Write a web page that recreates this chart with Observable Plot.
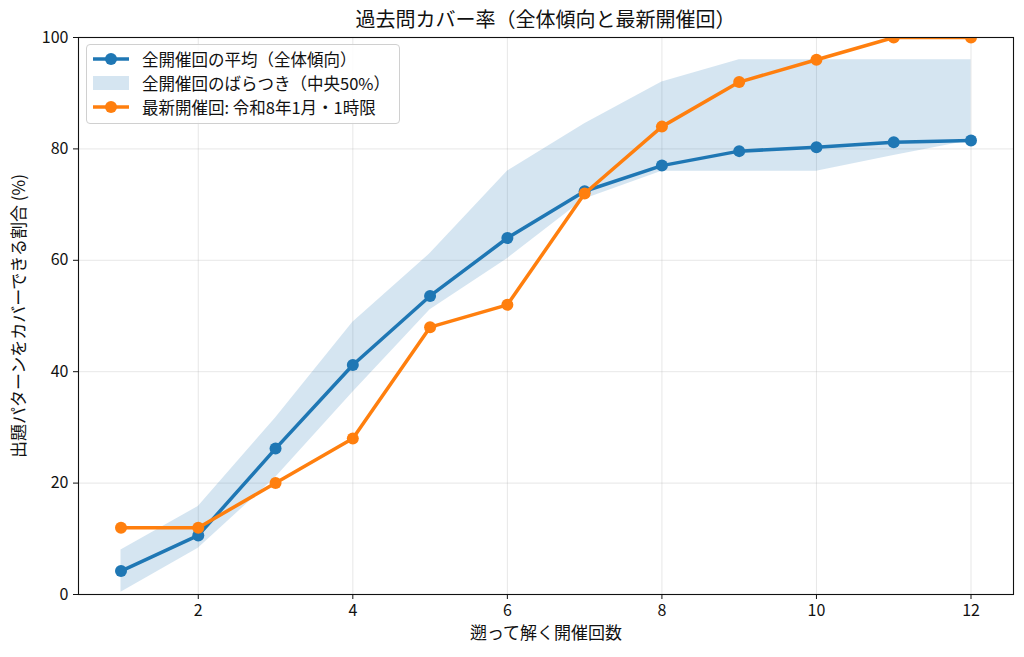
<!DOCTYPE html>
<html>
<head>
<meta charset="utf-8">
<script src="https://cdn.jsdelivr.net/npm/d3@7"></script>
<script src="https://cdn.jsdelivr.net/npm/@observablehq/plot@0.6"></script>
<style>
  body { margin: 0; background: #fff; font-family: "Noto Sans CJK JP", "Noto Sans", sans-serif; }
  #wrap { position: relative; width: 1024px; height: 657px; }
  #title { position: absolute; left: 78px; width: 935px; top: 0; height: 36px; line-height: 38px; text-align: center; font-size: 20px; color: #111; z-index: 2; }
  #chart { position: absolute; left: 0; top: 16px; }
  #legend { position: absolute; left: 86px; top: 44px; width: 314px; height: 80px; border: 1px solid #d0d0d0; border-radius: 4px; background: rgba(255,255,255,0.85); font-size: 16.5px; color: #111; box-sizing: border-box; }
  .row { position: absolute; left: 6px; height: 24px; display: flex; align-items: center; }
  .row span { margin-left: 13px; white-space: nowrap; }
</style>
</head>
<body>
<div id="wrap">
  <div id="title"></div>
  <div id="chart"></div>
  <div id="legend"></div>
</div>
<script>
const rounds = [1, 2, 3, 4, 5, 6, 7, 8, 9, 10, 11, 12];
const meanAll = [4.2, 10.6, 26.2, 41.2, 53.6, 64.0, 72.4, 77.0, 79.6, 80.3, 81.2, 81.5];
const q25 = [0.4, 8.3, 21.0, 36.3, 51.1, 60.3, 71.0, 76.0, 76.0, 76.0, 78.8, 81.5];
const q75 = [8.0, 15.8, 31.7, 48.9, 61.2, 76.0, 84.5, 92.0, 96.0, 96.0, 96.0, 96.0];
const latest = [12, 12, 20, 28, 48, 52, 72, 84, 92, 96, 100, 100];
const xTicks = [2, 4, 6, 8, 10, 12];
const yTicks = [0, 20, 40, 60, 80, 100];

const titleText = "過去問カバー率（全体傾向と最新開催回）";
const xLabel = "遡って解く開催回数";
const yLabel = "出題パターンをカバーできる割合 (%)";
const legendLabels = ["全開催回の平均（全体傾向）", "全開催回のばらつき（中央50%）", "最新開催回: 令和8年1月・1時限"];

const blue = "#1f77b4", orange = "#ff7f0e";

const rows = rounds.map((r, i) => ({x: r, mean: meanAll[i], lo: q25[i], hi: q75[i], latest: latest[i]}));

document.getElementById("title").textContent = titleText;

const plot = Plot.plot({
  width: 1024,
  height: 641,
  marginLeft: 78,
  marginRight: 11,
  marginTop: 21,
  marginBottom: 63,
  style: {fontFamily: '"Noto Sans CJK JP", "Noto Sans", sans-serif', fontSize: "16px", color: "#111", background: "transparent"},
  x: {domain: [0.45, 12.55]},
  y: {domain: [0, 100]},
  marks: [
    Plot.gridX(xTicks, {stroke: "#b0b0b0", strokeOpacity: 0.3}),
    Plot.gridY(yTicks, {stroke: "#b0b0b0", strokeOpacity: 0.3}),
    Plot.areaY(rows, {x: "x", y1: "lo", y2: "hi", fill: blue, fillOpacity: 0.19}),
    Plot.line(rows, {x: "x", y: "mean", stroke: blue, strokeWidth: 3.5, clip: true}),
    Plot.dot(rows, {x: "x", y: "mean", r: 6, fill: blue, clip: true}),
    Plot.line(rows, {x: "x", y: "latest", stroke: orange, strokeWidth: 3.5, clip: true}),
    Plot.dot(rows, {x: "x", y: "latest", r: 6, fill: orange, clip: true}),
    Plot.frame({stroke: "#111", strokeWidth: 1.1}),
    Plot.axisX(xTicks, {tickSize: 5, tickPadding: 5, fontSize: 16, label: xLabel, labelAnchor: "center", labelArrow: "none", labelOffset: 44}),
    Plot.axisY(yTicks, {tickSize: 5, tickPadding: 5, fontSize: 16, label: yLabel, labelAnchor: "center", labelArrow: "none", labelOffset: 66})
  ]
});
plot.querySelectorAll("[aria-label='x-axis label'] text, [aria-label='y-axis label'] text").forEach(t => t.style.fontSize = "17px");
document.getElementById("chart").appendChild(plot);

// legend
const lg = document.getElementById("legend");
const swatches = [
  `<svg width="36" height="14"><line x1="0" y1="7" x2="36" y2="7" stroke="${blue}" stroke-width="3.5"/><circle cx="18" cy="7" r="6" fill="${blue}"/></svg>`,
  `<svg width="36" height="14"><rect x="0" y="0" width="36" height="14" fill="${blue}" fill-opacity="0.19"/></svg>`,
  `<svg width="36" height="14"><line x1="0" y1="7" x2="36" y2="7" stroke="${orange}" stroke-width="3.5"/><circle cx="18" cy="7" r="6" fill="${orange}"/></svg>`
];
legendLabels.forEach((txt, i) => {
  const d = document.createElement("div");
  d.className = "row";
  d.style.top = (2 + i * 24) + "px";
  d.innerHTML = swatches[i] + `<span>${txt}</span>`;
  lg.appendChild(d);
});
</script>
</body>
</html>
